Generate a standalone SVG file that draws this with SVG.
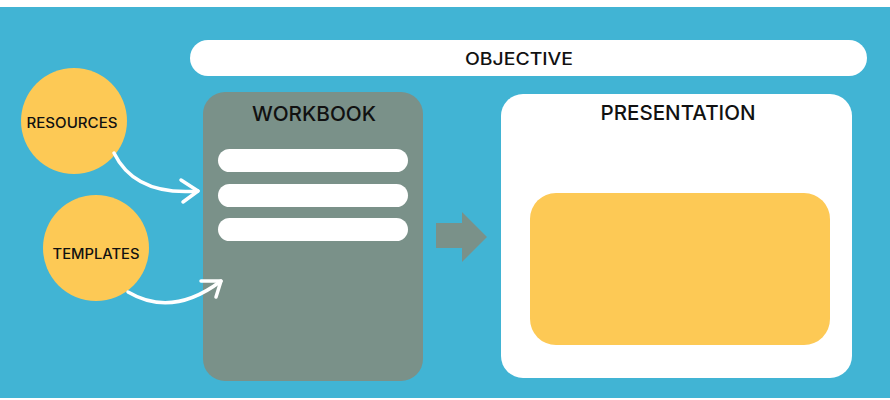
<svg xmlns="http://www.w3.org/2000/svg" width="890" height="400" viewBox="0 0 890 400">
<style>
.t{font-family:Inter,"Liberation Sans","DejaVu Sans",sans-serif;font-weight:500;fill:#111;text-anchor:middle}
.lbl{font-size:20px}
.sm{font-size:14px}
.bar{fill:#fff}
.conn{fill:none;stroke:#fff;stroke-width:3.5;stroke-linecap:round;stroke-linejoin:round}
</style>
<rect x="0" y="0" width="890" height="400" fill="#fff"/>
<rect x="0" y="7" width="890" height="391" fill="#41b4d4"/>
<g id="objective">
<rect x="190" y="40" width="677" height="36" rx="18" fill="#fff"/>
<text class="t" x="519" y="65" font-size="17" textLength="108" lengthAdjust="spacingAndGlyphs">OBJECTIVE</text>
</g>
<g id="resources">
<circle cx="74" cy="121" r="53" fill="#fdc955"/>
<text class="t sm" x="72" y="128" textLength="91" lengthAdjust="spacingAndGlyphs">RESOURCES</text>
</g>
<g id="templates">
<circle cx="96" cy="248" r="53" fill="#fdc955"/>
<text class="t sm" x="96" y="259" textLength="87" lengthAdjust="spacingAndGlyphs">TEMPLATES</text>
</g>
<g id="workbook">
<rect x="203" y="92" width="220" height="289" rx="22" fill="#7a9189"/>
<text class="t lbl" x="314" y="121" textLength="124" lengthAdjust="spacingAndGlyphs">WORKBOOK</text>
<rect class="bar" x="218" y="149" width="190" height="23" rx="11.5"/>
<rect class="bar" x="218" y="184" width="190" height="23" rx="11.5"/>
<rect class="bar" x="218" y="218" width="190" height="23" rx="11.5"/>
</g>
<g id="presentation">
<rect x="501" y="94" width="351" height="284" rx="22" fill="#fff"/>
<text class="t lbl" x="678" y="120" textLength="155" lengthAdjust="spacingAndGlyphs">PRESENTATION</text>
<rect x="530" y="193" width="300" height="152" rx="26" fill="#fdc955"/>
</g>
<g id="connectors">
<path class="conn" d="M114,153 Q135,196 198,191"/>
<path class="conn" d="M181,180 L198,191 L183,202"/>
<path class="conn" d="M128,292 Q172,318 221,281"/>
<path class="conn" d="M201,281 L221,281 L216,297"/>
<polygon points="436,223 462,223 462,212 487,237 462,262 462,248 436,248" fill="#7a9189"/>
</g>
</svg>
